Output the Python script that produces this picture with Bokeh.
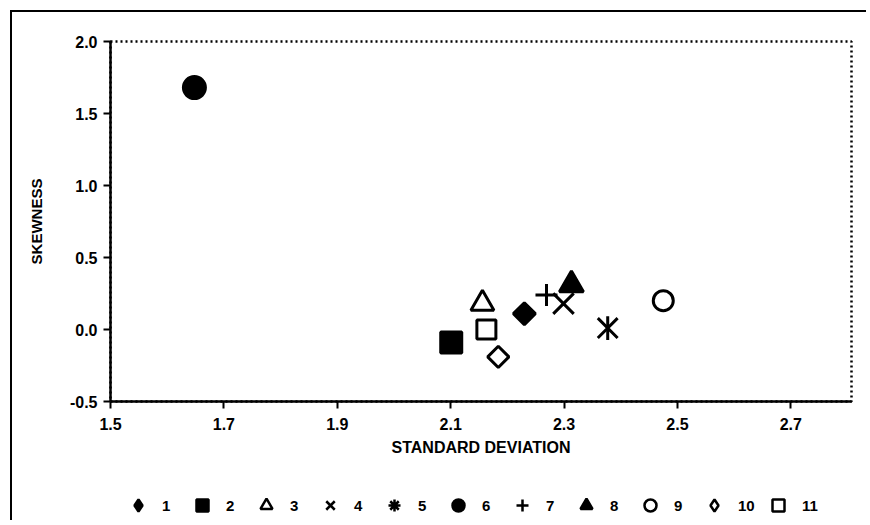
import math
from bokeh.plotting import figure
from bokeh.layouts import column
from bokeh.models import Legend, LegendItem, FixedTicker, PrintfTickFormatter, Range1d
from bokeh.embed import file_html
from bokeh.resources import INLINE

# ---- data ----
series = ["1", "2", "3", "4", "5", "6", "7", "8", "9", "10", "11"]
std_dev = [2.230, 2.101, 2.156, 2.299, 2.377, 1.648, 2.269, 2.313, 2.475, 2.184, 2.163]
skewness = [0.11, -0.09, 0.18, 0.18, 0.01, 1.68, 0.24, 0.31, 0.20, -0.19, 0.0]
x_ticks = [1.5, 1.7, 1.9, 2.1, 2.3, 2.5, 2.7]
y_ticks = [-0.5, 0.0, 0.5, 1.0, 1.5, 2.0]
x_title = "STANDARD DEVIATION"
y_title = "SKEWNESS"

# ---- styles (one per series) ----
markers = ["square", "square", "triangle", "x", "x", "circle", "cross",
           "triangle", "circle", "square", "square"]
legend_markers = ["diamond", "square", "triangle", "x", "asterisk", "circle", "cross",
                  "triangle", "circle", "diamond", "square"]
angles = [math.pi / 4, 0, 0, 0, 0, 0, 0, 0, 0, math.pi / 4, 0]
filled = [True, True, False, False, False, True, False, True, False, False, False]
sizes = [15.5, 21, 23, 29, 28, 22, 22, 24, 20, 15, 19]

FONT = "Liberation Sans"

p = figure(width=856, height=453, output_backend="svg", toolbar_location=None,
           x_range=Range1d(1.5, 2.807), y_range=Range1d(-0.5, 2.0),
           min_border_left=98, min_border_right=17, min_border_top=29,
           min_border_bottom=64,
           styles={"border-top": "2px solid black", "border-left": "2px solid black"})

p.xgrid.visible = False
p.ygrid.visible = False
p.outline_line_color = "black"
p.outline_line_width = 2.5
p.outline_line_dash = "2 3"

for ax in (p.xaxis[0], p.yaxis[0]):
    ax.axis_line_width = 2.5
    ax.major_tick_line_width = 2
    ax.major_tick_out = 7
    ax.major_tick_in = 0
    ax.minor_tick_line_color = None
    ax.major_label_text_font = FONT
    ax.major_label_text_font_style = "bold"
    ax.major_label_text_font_size = "16px"
    ax.major_label_text_color = "black"
    ax.axis_label_text_font = FONT
    ax.axis_label_text_font_style = "bold"
    ax.axis_label_text_color = "black"
    ax.formatter = PrintfTickFormatter(format="%.1f")

p.xaxis[0].ticker = FixedTicker(ticks=x_ticks)
p.yaxis[0].ticker = FixedTicker(ticks=y_ticks)
p.xaxis[0].axis_label = x_title
p.yaxis[0].axis_label = y_title
p.xaxis[0].axis_label_text_font_size = "16px"
p.yaxis[0].axis_label_text_font_size = "15px"
p.xaxis[0].major_label_standoff = 9
p.xaxis[0].axis_label_standoff = 6
p.yaxis[0].major_label_standoff = 6
p.yaxis[0].axis_label_standoff = 22

for i, name in enumerate(series):
    p.scatter(x=[std_dev[i]], y=[skewness[i]], marker=markers[i], size=sizes[i],
              angle=angles[i],
              fill_color="black" if filled[i] else None,
              line_color="black", line_width=3)
    if name == "5":
        # vertical arm of the six-armed asterisk
        p.scatter(x=[std_dev[i]], y=[skewness[i]], marker="dash", size=sizes[i] * 0.85,
                  angle=math.pi / 2, line_color="black", line_width=3)

# ---- legend strip below the chart ----
lg = figure(width=856, height=57, output_backend="svg", toolbar_location=None,
            x_range=Range1d(0, 1), y_range=Range1d(0, 1),
            x_axis_type=None, y_axis_type=None,
            min_border_left=0, min_border_right=0, min_border_top=0, min_border_bottom=0,
            styles={"border-left": "2px solid black"})
lg.xgrid.visible = False
lg.ygrid.visible = False
lg.outline_line_color = None

items = []
for i, name in enumerate(series):
    r = lg.scatter(x=[std_dev[i]], y=[skewness[i]], marker=legend_markers[i],
                   fill_color="black" if filled[i] else None,
                   line_color="black", line_width=2.5)
    items.append(LegendItem(label=name, renderers=[r]))

legend = Legend(items=items, orientation="horizontal", location=(13, 0),
                glyph_width=30, glyph_height=30, label_standoff=9, label_width=18,
                spacing=7, padding=0, margin=0,
                label_text_font=FONT, label_text_font_style="bold",
                label_text_font_size="15px", label_text_color="black",
                border_line_color=None, background_fill_alpha=0)
lg.add_layout(legend, "center")

layout = column(p, lg, margin=(10, 0, 0, 10))

open("out.html", "w").write(file_html(layout, INLINE))
